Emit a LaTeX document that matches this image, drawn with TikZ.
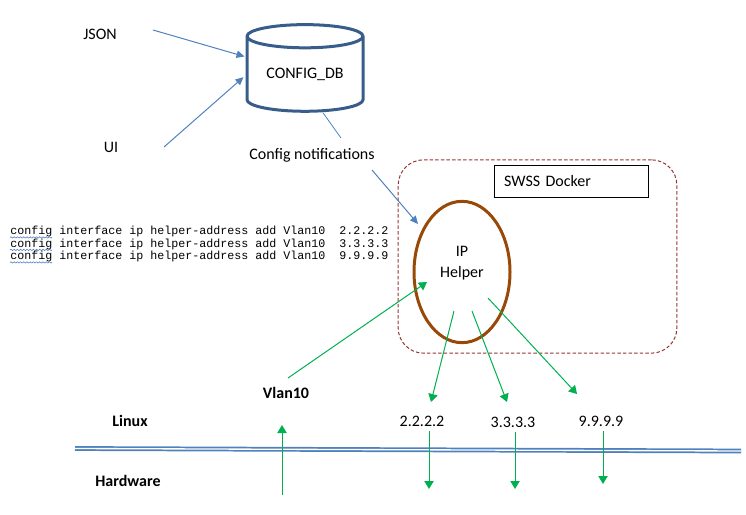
\documentclass[tikz,border=0pt]{standalone}
\usepackage{fontspec}
\setmainfont{Carlito}
\setmonofont{Liberation Mono}
\usetikzlibrary{shapes.geometric, arrows.meta, decorations.pathmorphing}
\definecolor{dbBlue}{HTML}{385D8A}
\definecolor{arrowBlue}{HTML}{4F81BD}
\definecolor{helperBrown}{HTML}{984807}
\definecolor{linkGreen}{HTML}{00B050}
\definecolor{dockerRed}{HTML}{963634}
\definecolor{spellBlue}{HTML}{4472C4}

\begin{document}
\begin{tikzpicture}[x=0.75pt, y=-0.75pt, font=\fontsize{12}{14}\selectfont]
\tikzset{DbStyle/.style = {cylinder, shape border rotate=90, aspect=0.3, draw=dbBlue, line width=2.25pt, minimum width=87pt, minimum height=65pt, inner sep=0pt},
  BlueArrow/.style = {-{Triangle[length=6pt, width=5.5pt]}, arrowBlue, line width=0.75pt},
  GreenArrow/.style = {-{Triangle[length=6pt, width=7pt]}, linkGreen, line width=0.75pt},
  CmdStyle/.style = {anchor= base west, inner sep=0pt, font=\ttfamily\fontsize{8.75}{9.4}\selectfont},
  Squiggle/.style = {spellBlue, line width=0.4pt, decorate, decoration={snake, amplitude=0.5pt, segment length=2.4pt}}
}
\useasboundingbox (0,0) rectangle (746,514);

    % Sources and database
    \node (json) at (100,34) {JSON};
    \node (ui) at (111,147) {UI};
    \node[DbStyle] (db) at (305,74.5) {CONFIG\_DB};
    \node (notif) at (312,155) {Config notifications};

    \coordinate (jsonTail) at (153,30);
    \coordinate (uiTail) at (164,147);
    \draw[BlueArrow] (jsonTail) -- ([xshift=-0.75pt, yshift=13.5pt]db.west);
    \draw[BlueArrow] (uiTail) -- ([xshift=-1.5pt, yshift=-2pt]db.west);
    \draw[arrowBlue, line width=0.6pt] ([xshift=13.5pt]db.south) -- (341,138);

    % SWSS docker
    \node[draw=dockerRed, line width=0.75pt, dash pattern=on 2.6pt off 1.6pt, rounded corners=19pt, minimum width=209pt, minimum height=145pt] (docker) at (537.5,256.5) {};
    \node[draw, line width=0.75pt, minimum width=116pt, minimum height=24pt, text width=101pt, align=left] (swss) at (571.5,181) {SWSS Docker};
    \node[ellipse, draw=helperBrown, line width=2.25pt, minimum width=72pt, minimum height=106pt] (helper) at (462,272) {};
    \node[align=center, font=\fontsize{12}{15.75}\selectfont] (helperLabel) at (462,263.5) {IP\\Helper};

    \coordinate (helperIn) at (418,224);
    \draw[BlueArrow] (372,170) -- (helperIn);

    % CLI commands
    \node[CmdStyle] (cmdA) at (10,234.5) {config interface ip helper-address add Vlan10\ \ 2.2.2.2};
    \node[CmdStyle] (cmdB) at (10,247) {config interface ip helper-address add Vlan10\ \ 3.3.3.3};
    \node[CmdStyle] (cmdC) at (10,259.5) {config interface ip helper-address add Vlan10\ \ 9.9.9.9};
    \draw[Squiggle] ([yshift=-2.2pt]cmdA.base west) -- ([xshift=31.5pt, yshift=-2.2pt]cmdA.base west);
    \draw[Squiggle] ([yshift=-2.2pt]cmdB.base west) -- ([xshift=31.5pt, yshift=-2.2pt]cmdB.base west);
    \draw[Squiggle] ([yshift=-2.2pt]cmdC.base west) -- ([xshift=31.5pt, yshift=-2.2pt]cmdC.base west);

    % Layers and addresses
    \node[font=\bfseries\fontsize{12}{14}\selectfont] (vlan) at (286,393) {Vlan10};
    \node[font=\bfseries\fontsize{12}{14}\selectfont] (linux) at (130,421) {Linux};
    \node[font=\bfseries\fontsize{12}{14}\selectfont] (hw) at (128,481) {Hardware};
    \node (ipA) at (422,421) {2.2.2.2};
    \node (ipB) at (513,422) {3.3.3.3};
    \node (ipC) at (601,421) {9.9.9.9};

    \coordinate (railL) at (75,448.5);
    \coordinate (railR) at (741,451);
    \draw[arrowBlue, line width=1.3pt, double=white, double distance=1pt] (railL) -- (railR);

    % Packet flow
    \coordinate (vlanTail) at (288,378);
    \coordinate (upTail) at (282,495);
    \coordinate (upHead) at (282,425);
    \draw[GreenArrow] (vlanTail) -- (427,282);
    \draw[GreenArrow] (upTail) -- (upHead);
    \draw[GreenArrow] (454,311) -- (431,402);
    \draw[GreenArrow] (472,311) -- (507,402);
    \draw[GreenArrow] (488,298) -- (577,394);
    \draw[GreenArrow] ([xshift=5.25pt]ipA.south) -- (429,489);
    \draw[GreenArrow] ([xshift=1.5pt]ipB.south) -- (515,489);
    \draw[GreenArrow] ([xshift=1.5pt]ipC.south) -- (603,484);
\end{tikzpicture}
\end{document}
